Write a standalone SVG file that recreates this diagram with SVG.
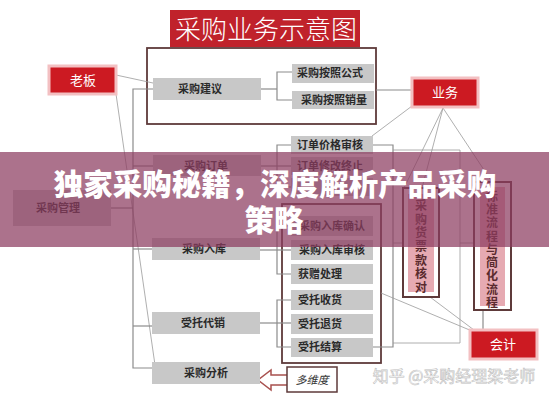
<svg xmlns="http://www.w3.org/2000/svg" width="549" height="400" viewBox="0 0 549 400">
<defs>
<style>
.red{fill:#cc1a22;stroke:#f3c0c2;stroke-width:3}
.gbox{fill:#c8c8c8}
.t{font-family:"Noto Sans CJK SC","Noto Sans",sans-serif;font-size:11px;font-weight:600;fill:#2a2a2a;text-anchor:middle}
.wt{font-family:"Noto Sans CJK SC","Noto Sans",sans-serif;fill:#ffffff;text-anchor:middle}
.vt{font-family:"Noto Sans CJK SC","Noto Sans",sans-serif;font-size:12px;font-weight:600;fill:#5a2a2e;text-anchor:middle}
.ln{fill:none;stroke:#8c8c8c;stroke-width:1.2}
.dk{fill:none;stroke:#5e3a3a;stroke-width:1.8}
.thin{fill:none;stroke:#9a9a9a;stroke-width:0.8}
</style>
</defs>
<rect width="549" height="400" fill="#ffffff"/>

<g id="title">
<rect x="170" y="10" width="190" height="37" fill="#c0222b"/>
<text class="wt" x="266" y="39" font-size="26" font-weight="300">采购业务示意图</text>
</g>

<g id="frames">
<rect class="dk" x="147" y="48" width="229" height="76"/>
<rect class="dk" x="282" y="204" width="99" height="159"/>
</g>

<g id="connectors">
<line class="thin" x1="116" y1="75" x2="153" y2="83"/>
<line class="thin" x1="116" y1="94" x2="155" y2="365"/>
<polyline class="ln" points="153,89 133,89 133,368 153,368"/>
<line class="ln" x1="111" y1="208" x2="133" y2="208"/>
<line class="ln" x1="133" y1="166" x2="153" y2="166"/>
<line class="ln" x1="133" y1="249" x2="152" y2="249"/>
<line class="ln" x1="133" y1="326" x2="152" y2="326"/>
<line class="ln" x1="261" y1="89" x2="277" y2="89"/>
<polyline class="ln" points="292,72 277,72 277,100 292,100"/>
<line class="ln" x1="376" y1="90" x2="412" y2="90"/>
<line class="ln" x1="261" y1="166" x2="277" y2="166"/>
<polyline class="ln" points="291,145 277,145 277,187 291,187"/>
<line class="ln" x1="277" y1="166" x2="291" y2="166"/>
<line class="ln" x1="260" y1="250" x2="291" y2="250"/>
<polyline class="ln" points="291,226 277,226 277,274 291,274"/>
<line class="ln" x1="260" y1="323" x2="291" y2="323"/>
<polyline class="ln" points="291,300 277,300 277,347 291,347"/>
<polyline class="ln" points="373,145 393,145 393,347 373,347"/>
<polyline class="thin" points="393,150 460,150 460,343 393,343"/>
<line class="thin" x1="393" y1="243" x2="403" y2="243"/>
<line class="thin" x1="460" y1="243" x2="474" y2="243"/>
<line class="thin" x1="412" y1="106" x2="372" y2="136"/>
<line class="thin" x1="443" y1="108" x2="404" y2="188"/>
<line class="thin" x1="443" y1="108" x2="422" y2="188"/>
<line class="thin" x1="443" y1="108" x2="492" y2="182"/>
<line class="thin" x1="381" y1="293" x2="472" y2="331"/>
<line class="thin" x1="430" y1="297" x2="474" y2="330"/>
<line class="ln" x1="483" y1="310" x2="483" y2="330"/>
<path d="M287,375 H271 V370 L258,380 L271,390 V385 H287" fill="#ffffff" stroke="#a8504e" stroke-width="1.5"/>
</g>

<g id="boss">
<rect class="red" x="49" y="66" width="67" height="28"/>
<text class="wt" x="83" y="85" font-size="13">老板</text>
</g>
<g id="business">
<rect class="red" x="412" y="78" width="66" height="29"/>
<text class="wt" x="445" y="97" font-size="13">业务</text>
</g>
<g id="accounting">
<rect class="red" x="470" y="330" width="67" height="29"/>
<text class="wt" x="503" y="349" font-size="13">会计</text>
</g>

<g id="n-jianyi"><rect class="gbox" x="153" y="78" width="108" height="22"/><text class="t" x="200" y="93">采购建议</text></g>
<g id="n-gongshi"><rect class="gbox" x="292" y="64" width="82" height="19"/><text class="t" x="330" y="77">采购按照公式</text></g>
<g id="n-xiaoliang"><rect class="gbox" x="292" y="91" width="82" height="18"/><text class="t" x="334" y="104">采购按照销量</text></g>

<g id="n-guanli"><rect class="gbox" x="13" y="190" width="98" height="36"/><text class="t" x="58" y="212">采购管理</text></g>
<g id="n-dingdan"><rect class="gbox" x="153" y="155" width="108" height="21"/><text class="t" x="206" y="170">采购订单</text></g>
<g id="n-ruku"><rect class="gbox" x="152" y="238" width="108" height="22"/><text class="t" x="204" y="253">采购入库</text></g>
<g id="n-daixiao"><rect class="gbox" x="152" y="312" width="108" height="22"/><text class="t" x="203" y="327">受托代销</text></g>
<g id="n-fenxi"><rect class="gbox" x="152" y="362" width="108" height="22"/><text class="t" x="206" y="377">采购分析</text></g>

<g id="n-jiage"><rect class="gbox" x="291" y="136" width="82" height="18"/><text class="t" x="330" y="149">订单价格审核</text></g>
<g id="n-xiugai"><rect class="gbox" x="291" y="157" width="82" height="18"/><text class="t" x="330" y="170">订单修改终止</text></g>
<g id="n-row3"><rect class="gbox" x="291" y="178" width="82" height="18"/></g>
<g id="n-queren"><rect class="gbox" x="291" y="216" width="82" height="20"/><text class="t" x="332" y="230">采购入库确认</text></g>
<g id="n-shenhe"><rect class="gbox" x="291" y="240" width="82" height="20"/><text class="t" x="332" y="254">采购入库审核</text></g>
<g id="n-huozeng"><rect class="gbox" x="291" y="264" width="82" height="20"/><text class="t" x="320" y="278">获赠处理</text></g>
<g id="n-shouhuo"><rect class="gbox" x="291" y="290" width="82" height="20"/><text class="t" x="320" y="304">受托收货</text></g>
<g id="n-tuihuo"><rect class="gbox" x="291" y="314" width="82" height="20"/><text class="t" x="320" y="328">受托退货</text></g>
<g id="n-jiesuan"><rect class="gbox" x="291" y="338" width="82" height="19"/><text class="t" x="320" y="351">受托结算</text></g>

<g id="n-piaokuan">
<rect x="403" y="188" width="36" height="109" fill="#ffffff" stroke="#5e3a3a" stroke-width="2"/>
<rect x="408" y="194" width="26" height="98" fill="#e6aab2"/>
<text class="vt" x="421" y="210">采</text>
<text class="vt" x="421" y="224">购</text>
<text class="vt" x="421" y="237">货</text>
<text class="vt" x="421" y="251">票</text>
<text class="vt" x="421" y="265">款</text>
<text class="vt" x="421" y="278">核</text>
<text class="vt" x="421" y="292">对</text>
</g>
<g id="n-biaozhun">
<rect x="474" y="182" width="37" height="128" fill="#ffffff" stroke="#5e3a3a" stroke-width="2"/>
<rect x="480" y="187" width="25" height="119" fill="#e6aab2"/>
<text class="vt" x="492" y="201">标</text>
<text class="vt" x="492" y="214">准</text>
<text class="vt" x="492" y="227">流</text>
<text class="vt" x="492" y="241">程</text>
<text class="vt" x="492" y="254">与</text>
<text class="vt" x="492" y="267">简</text>
<text class="vt" x="492" y="280">化</text>
<text class="vt" x="492" y="294">流</text>
<text class="vt" x="492" y="307">程</text>
</g>

<g id="n-duowei">
<rect x="287" y="367" width="50" height="25" fill="#ffffff" stroke="#5e3a3a" stroke-width="1.5"/>
<text x="312" y="384" font-family="Noto Sans CJK SC, sans-serif" font-size="11" font-style="italic" fill="#333" text-anchor="middle">多维度</text>
</g>

<text x="454" y="382" font-family="Noto Sans CJK SC, sans-serif" font-size="16" fill="#ffffff" stroke="#b8b8b8" stroke-width="0.6" text-anchor="middle" opacity="0.9">知乎 @采购经理梁老师</text>

<g id="banner">
<rect x="0" y="152" width="549" height="95" fill="#8c3c5f" opacity="0.72"/>
<text class="wt" x="275" y="195" font-size="29.5" font-weight="900">独家采购秘籍，深度解析产品采购</text>
<text class="wt" x="274" y="231" font-size="29.5" font-weight="900">策略</text>
</g>
</svg>
